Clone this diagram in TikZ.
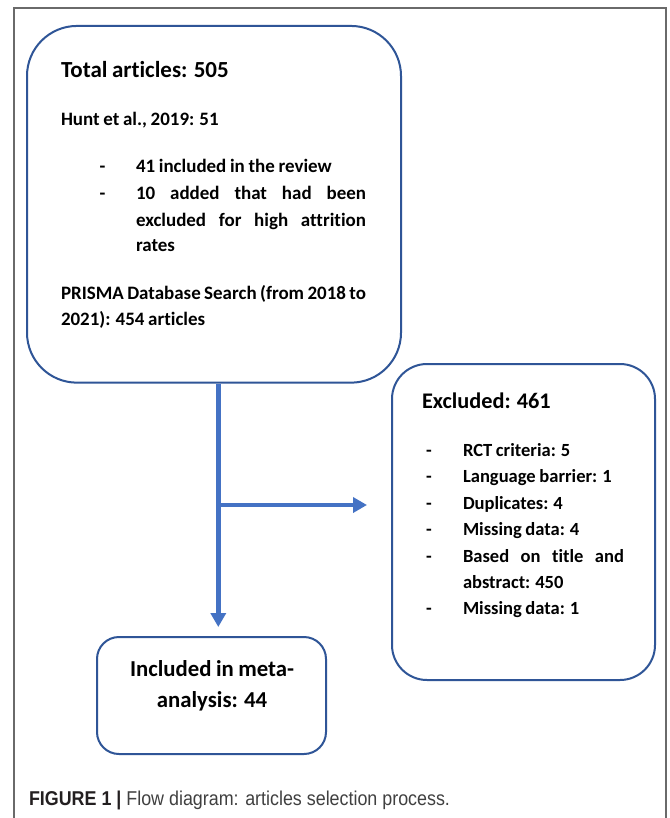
\documentclass[tikz,border=0pt]{standalone}
\usepackage{fontspec}
\setmainfont{Carlito}[Ligatures=CommonOff, WordSpace=0.86]
\newfontfamily\capfont{Liberation Sans}
\usetikzlibrary{arrows.meta}
\definecolor{boxblue}{HTML}{2F5597}
\definecolor{arrowblue}{HTML}{4472C4}
\definecolor{framegray}{HTML}{6A6A6A}
\definecolor{capbold}{HTML}{231F20}
\definecolor{captext}{HTML}{404040}
\newlength\fitw
\newcommand\fitfont[4]{%
  \settowidth\fitw{\normalfont#2\fontsize{10pt}{12pt}\selectfont #4}%
  \pgfmathsetmacro#1{10*#3/\fitw}}
\begin{document}
\fitfont{\szA}{\bfseries}{167.7}{Total articles: 505}%
\fitfont{\szB}{\bfseries}{195.7}{41 included in the review}%
\fitfont{\szC}{\bfseries}{128.7}{Excluded: 461}%
\fitfont{\szD}{\bfseries}{148.7}{Language barrier: 1}%
\fitfont{\szE}{\bfseries}{164}{Included in meta-}%
\fitfont{\szF}{\capfont}{421}{\textbf{FIGURE 1 |} Flow diagram: articles selection process.}%
\pgfmathsetmacro\sxF{\szF/20}%
\begin{tikzpicture}[x=1pt,y=-1pt,
  box/.style={draw=boxblue, line width=2pt, inner sep=0pt},
  txt/.style={anchor=base west, inner sep=0pt, outer sep=0pt},
  ctxt/.style={anchor=base, inner sep=0pt, outer sep=0pt},
  flow/.style={draw=arrowblue, line width=4.5pt, -{Triangle[length=14pt,width=15pt]}},
  ftitle/.style={font=\bfseries\fontsize{\szA}{\szA}\selectfont},
  fbody/.style={font=\bfseries\fontsize{\szB}{\szB}\selectfont},
  fexcl/.style={font=\bfseries\fontsize{\szC}{\szC}\selectfont},
  fitem/.style={font=\bfseries\fontsize{\szD}{\szD}\selectfont},
  fincl/.style={font=\bfseries\fontsize{\szE}{\szE}\selectfont},
  fcap/.style={font=\capfont\fontsize{20}{20}\selectfont, text=captext}]
\useasboundingbox (0,0) rectangle (669,818);
\fill[white] (0,0) rectangle (669,818);
% figure frame
\draw[framegray, line width=1.5pt] (14,818) -- (14,8) -- (666,8) -- (666,818);
% boxes
\node[box, rounded corners=50pt, minimum width=374pt, minimum height=356.7pt] (total) at (214,204.3) {};
\node[box, rounded corners=35pt, minimum width=263pt, minimum height=316pt] (excl) at (523.5,522) {};
\node[box, rounded corners=22pt, minimum width=229pt, minimum height=117pt] (incl) at (211.5,695.5) {};
% box 1 text
\node[txt, ftitle] (t1) at (61,77.3) {Total articles: 505};
\node[txt, fbody] (t2) at (61,126) {Hunt et al., 2019: 51};
\node[txt, fbody] (d1) at (99.5,172.7) {-};
\node[txt, fbody] (t3) at (136,172.7) {41 included in the review};
\node[txt, fbody] (d2) at (99.5,199.3) {-};
\node[txt, fbody] (t4) at (136,199.3) {\makebox[230pt][s]{10 added that had been}};
\node[txt, fbody] (t5) at (136,226) {\makebox[230pt][s]{excluded for high attrition}};
\node[txt, fbody] (t6) at (136,251.7) {rates};
\node[txt, fbody] (t7) at (61,299) {\makebox[305pt][s]{PRISMA Database Search (from 2018 to}};
\node[txt, fbody] (t8) at (61,325) {2021): 454 articles};
% box 2 text
\node[txt, fexcl] (e0) at (422,408.3) {Excluded: 461};
\foreach \y/\n in {456/1,482.7/2,509.3/3,535.7/4,562.3/5,614.3/7}
  \node[txt, fitem] (ed\n) at (426,\y) {-};
\node[txt, fitem] (e1) at (463,456) {RCT criteria: 5};
\node[txt, fitem] (e2) at (463,482.7) {Language barrier: 1};
\node[txt, fitem] (e3) at (463,509.3) {Duplicates: 4};
\node[txt, fitem] (e4) at (463,535.7) {Missing data: 4};
\node[txt, fitem] (e5) at (463,562.3) {\makebox[161pt][s]{Based on title and}};
\node[txt, fitem] (e6) at (463,588.3) {abstract: 450};
\node[txt, fitem] (e7) at (463,614.3) {Missing data: 1};
% box 3 text
\node[ctxt, fincl] (i1) at (212,676) {Included in meta-};
\node[ctxt, fincl] (i2) at (212,707.7) {analysis: 44};
% connectors
\coordinate (split) at (218.3,505);
\coordinate (downend) at (218.3,627);
\coordinate (rightend) at (367,505);
\draw[flow] (split |- total.south) -- (downend);
\draw[flow] (split) -- (rightend);
% caption
\node[txt, fcap] (cap) at (29,805.7) {\scalebox{\sxF}[1]{{\color{capbold}\textbf{FIGURE 1 |}} Flow diagram: articles selection process.}};
\end{tikzpicture}
\end{document}
